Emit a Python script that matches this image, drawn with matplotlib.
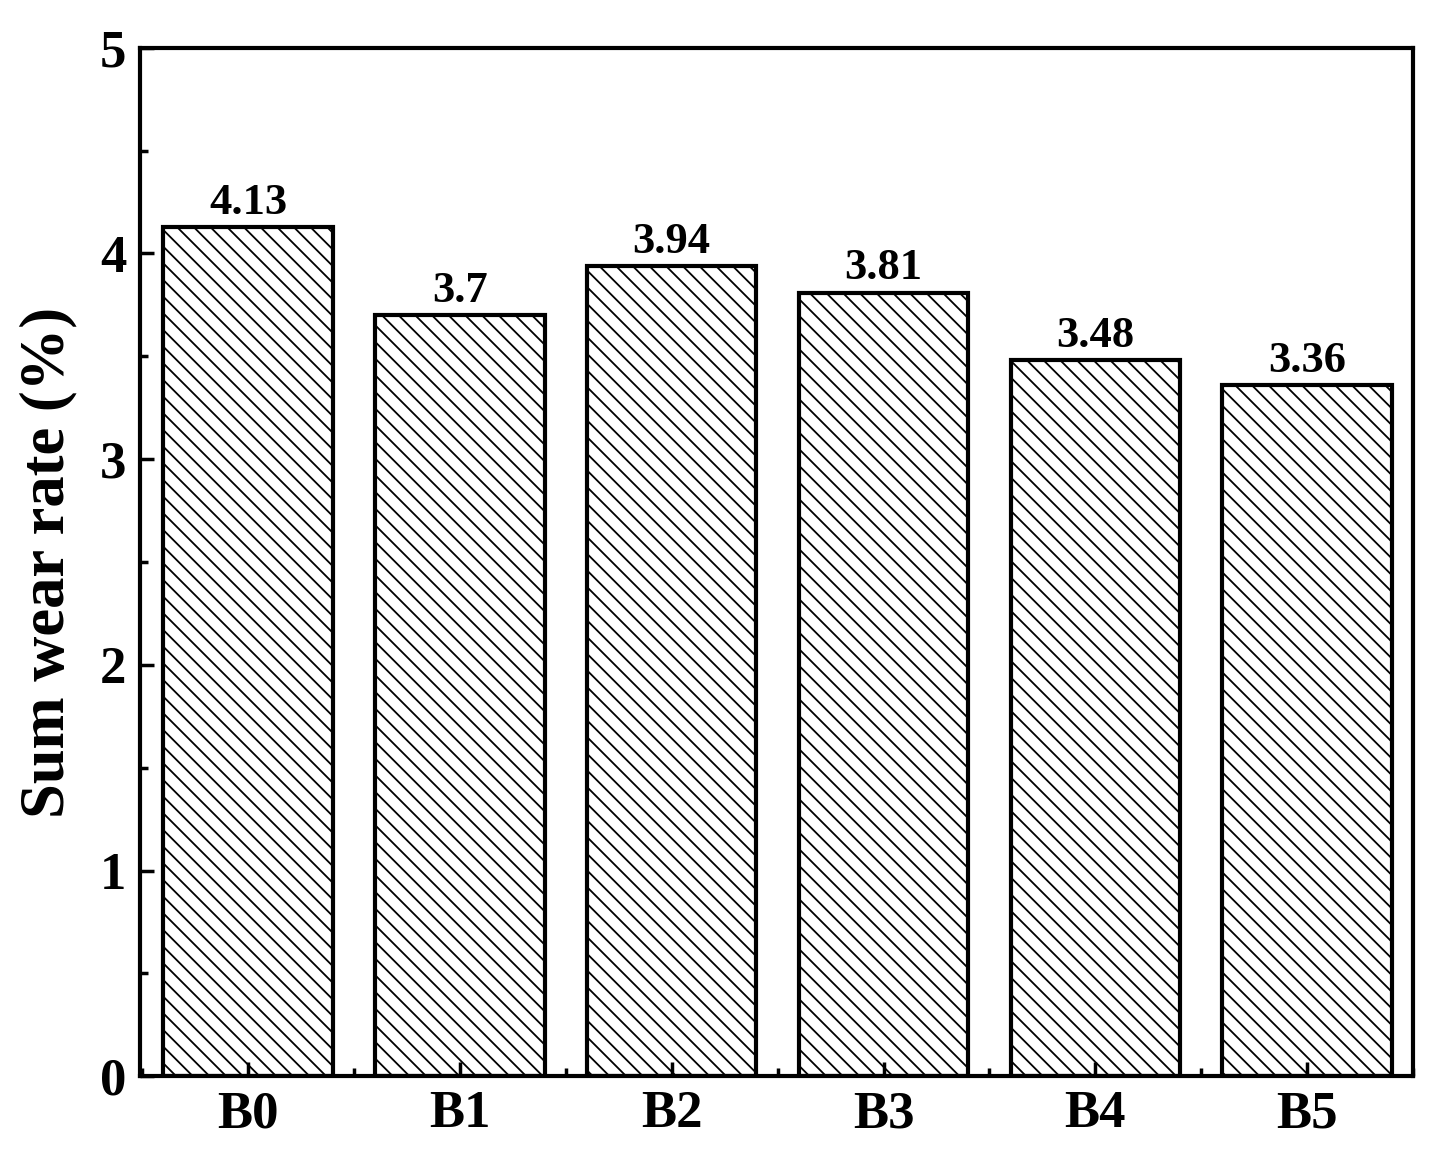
import matplotlib.pyplot as plt
from matplotlib.ticker import MultipleLocator

plt.rcParams['font.family'] = ['Liberation Serif', 'DejaVu Serif']
plt.rcParams['font.weight'] = 'bold'
plt.rcParams['hatch.linewidth'] = 1.3

samples = ["B0", "B1", "B2", "B3", "B4", "B5"]
wear_rate = [4.13, 3.7, 3.94, 3.81, 3.48, 3.36]
labels = ["4.13", "3.7", "3.94", "3.81", "3.48", "3.36"]

fig, ax = plt.subplots(figsize=(14.53, 11.66), dpi=100)
fig.subplots_adjust(left=0.0964, right=0.9725, top=0.959, bottom=0.077)

xs = range(len(samples))
bars = ax.bar(xs, wear_rate, width=0.8, color="white", edgecolor="black",
              linewidth=3, hatch="\\\\")
for b, t in zip(bars, labels):
    ax.text(b.get_x() + b.get_width() / 2, b.get_height() + 0.02, t,
            ha="center", va="bottom", fontsize=32, fontweight="bold")

ax.set_xlim(-0.51, 5.5)
ax.set_ylim(0, 5)
ax.set_xticks(list(xs))
ax.set_xticklabels(samples)
ax.xaxis.set_minor_locator(MultipleLocator(0.5))
ax.yaxis.set_major_locator(MultipleLocator(1))
ax.yaxis.set_minor_locator(MultipleLocator(0.5))
ax.tick_params(which="major", direction="in", length=10, width=2.5, labelsize=38, pad=10)
ax.tick_params(which="minor", direction="in", length=6, width=2.5)
for s in ax.spines.values():
    s.set_linewidth(3)
ax.set_ylabel("Sum wear rate (%)", fontsize=45, fontweight="bold", labelpad=16)

fig.savefig("out.png", dpi=100)
